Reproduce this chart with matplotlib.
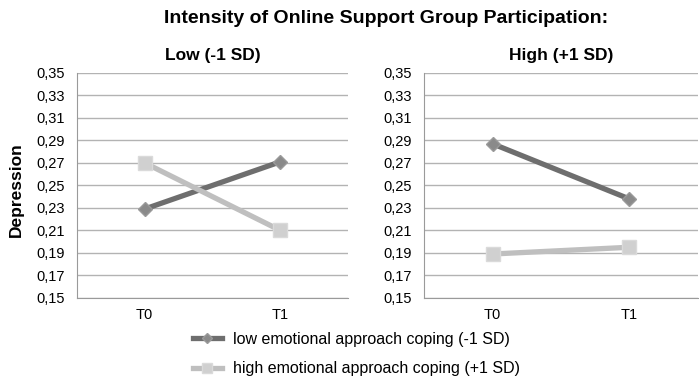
import matplotlib.pyplot as plt
from matplotlib.ticker import FixedLocator, FuncFormatter
from matplotlib.lines import Line2D

# data
times = ['T0', 'T1']
panels = ['Low (-1 SD)', 'High (+1 SD)']
low_coping = [[0.229, 0.271], [0.287, 0.238]]
high_coping = [[0.270, 0.210], [0.189, 0.195]]
y_ticks = [0.15, 0.17, 0.19, 0.21, 0.23, 0.25, 0.27, 0.29, 0.31, 0.33, 0.35]

plt.rcParams['font.family'] = ['Liberation Sans', 'DejaVu Sans']

DARK = '#6e6e6e'
DARK_M = '#8a8a8a'
LIGHT = '#bfbfbf'
LIGHT_M = '#d0d0d0'
GRID = '#b3b3b3'

fig = plt.figure(figsize=(6.99, 3.78), dpi=100)
axes_pos = [[0.110, 0.212, 0.388, 0.595], [0.607, 0.212, 0.391, 0.595]]

for i, pos in enumerate(axes_pos):
    ax = fig.add_axes(pos)
    x = list(range(len(times)))
    ax.plot(x, low_coping[i], color=DARK, lw=3.8, marker='D', ms=7.5,
            mfc=DARK_M, mec='#9a9a9a', zorder=3)
    ax.plot(x, high_coping[i], color=LIGHT, lw=3.8, marker='s', ms=10,
            mfc=LIGHT_M, mec='#dadada', zorder=3)
    ax.set_xlim(-0.5, 1.5)
    ax.set_ylim(0.15, 0.35)
    ax.set_xticks(x)
    ax.set_xticklabels(times)
    ax.yaxis.set_major_locator(FixedLocator(y_ticks))
    ax.yaxis.set_major_formatter(FuncFormatter(lambda v, p: f'{v:.2f}'.replace('.', ',')))
    ax.grid(axis='y', color=GRID, lw=1)
    ax.set_axisbelow(True)
    for s in ['top', 'right']:
        ax.spines[s].set_visible(False)
    ax.spines['left'].set_color('#9a9a9a')
    ax.spines['bottom'].set_color('#9a9a9a')
    ax.tick_params(length=0, labelsize=10.5)
    ax.tick_params(axis='y', pad=9)
    ax.tick_params(axis='x', pad=7)
    ax.set_title(panels[i], fontsize=12.5, fontweight='bold', pad=9)
    if i == 0:
        ax.set_ylabel('Depression', fontsize=12.5, fontweight='bold')
        ax.yaxis.set_label_coords(-0.195, 0.48)

fig.text(0.552, 0.952, 'Intensity of Online Support Group Participation:',
         fontsize=14, fontweight='bold', ha='center', va='center')

handles = [
    Line2D([], [], color=DARK, lw=3.8, marker='D', ms=5.5, mfc=DARK_M, mec='#9a9a9a'),
    Line2D([], [], color=LIGHT, lw=3.8, marker='s', ms=7.5, mfc=LIGHT_M, mec='#dadada'),
]
fig.legend(handles, ['low emotional approach coping (-1 SD)',
                     'high emotional approach coping (+1 SD)'],
           loc='upper center', bbox_to_anchor=(0.51, 0.122), frameon=False,
           borderpad=0, borderaxespad=0,
           fontsize=11.5, handlelength=1.8, handletextpad=0.7, labelspacing=0.9)

fig.savefig('out.png', dpi=100)
